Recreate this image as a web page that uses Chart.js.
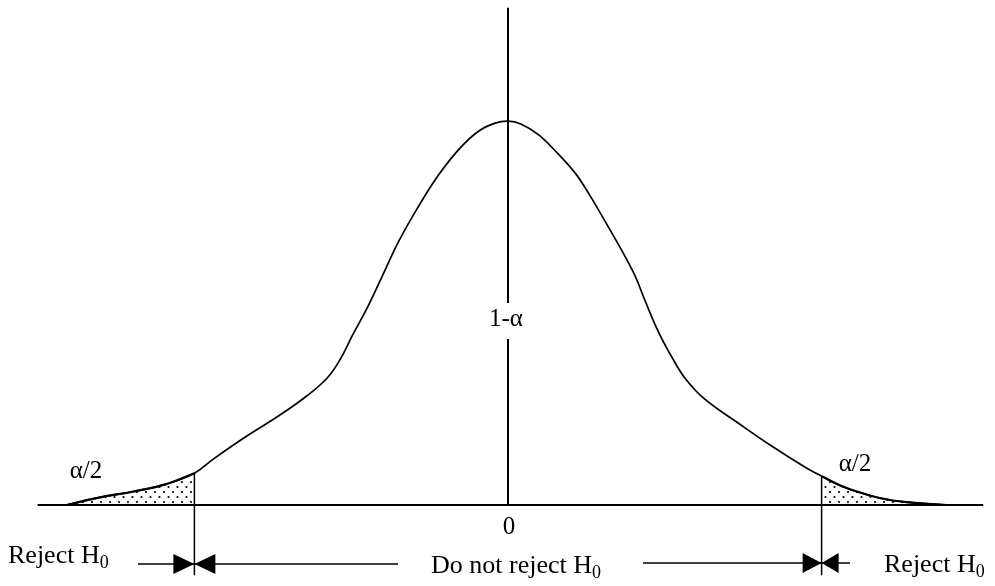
<!DOCTYPE html>
<html><head><meta charset="utf-8">
<script src="https://cdn.jsdelivr.net/npm/chart.js@4/dist/chart.umd.min.js"></script>
<style>html,body{margin:0;padding:0;background:#fff;overflow:hidden}</style>
</head><body>
<canvas id="c" width="995" height="586"></canvas>
<script>
// ---- data (z on x axis, density on y axis) ----
const zValues = [-2.76,-2.55,-2.34,-2.13,-1.96,-1.84,-1.63,-1.43,-1.26,-1.13,-1.05,-0.97,-0.88,-0.78,-0.68,-0.55,-0.43,-0.30,-0.18,-0.08,0,
                 0.08,0.19,0.29,0.42,0.50,0.61,0.78,0.86,0.94,1.03,1.11,1.23,1.44,1.65,1.86,1.96,2.08,2.18,2.33,2.49,2.74];
const density = [0,0.008,0.014,0.022,0.033,0.048,0.072,0.093,0.113,0.132,0.151,0.177,0.205,0.240,0.275,0.313,0.344,0.371,0.389,0.397,0.399,
                 0.396,0.385,0.369,0.345,0.325,0.294,0.243,0.211,0.180,0.152,0.131,0.110,0.085,0.061,0.039,0.030,0.020,0.014,0.007,0.003,0];
const criticalZ = [-1.96, 1.96];
const baselineZ = [-2.94, 2.97];
const axisTop = 0.517;
const critLineBottom = -0.073;
const tickLabels = ['0'];
const tailLabels = ['α/2', 'α/2'];
const centerLabel = '1-α';
const regionLabels = ['Reject H', 'Do not reject H', 'Reject H'];
const subscript = '0';

// ---- build ----
const pts = zValues.map((z,i)=>({x:z,y:density[i]}));
const densAt = z => density[zValues.indexOf(z)];
const leftTail = pts.filter(p=>p.x <= criticalZ[0]);
const rightTail = pts.filter(p=>p.x >= criticalZ[1]);

function dotPattern(){
  const t = document.createElement('canvas'); t.width = 9; t.height = 10;
  const g = t.getContext('2d');
  g.fillStyle = '#000';
  g.beginPath(); g.arc(2,2,1.1,0,Math.PI*2); g.fill();
  g.beginPath(); g.arc(6.5,7,1.1,0,Math.PI*2); g.fill();
  return g.createPattern(t,'repeat');
}
const pat = dotPattern();
const SERIF = '"Liberation Serif","Times New Roman",serif';

const line = (data, w, extra) => Object.assign({type:'line', data, borderColor:'#000', borderWidth:w, pointRadius:0, fill:false, tension:0}, extra||{});

const textPlugin = {
  id:'texts',
  afterDatasetsDraw(chart){
    const ctx = chart.ctx, xs = chart.scales.x;
    ctx.save();
    ctx.fillStyle = '#000'; ctx.strokeStyle = '#000';
    ctx.textBaseline = 'middle';
    const font = s => s + 'px ' + SERIF;
    const cx = xs.getPixelForValue(0);
    ctx.fillStyle = '#fff'; ctx.fillRect(cx-22, 303, 44, 36);
    ctx.fillStyle = '#000';
    ctx.font = font(25); ctx.textAlign = 'center';
    ctx.fillText(centerLabel, cx-2, 319);
    ctx.fillText(tailLabels[0], 86, 471);
    ctx.fillText(tailLabels[1], 855, 464);
    ctx.fillText(tickLabels[0], cx+1, 527);
    ctx.textAlign = 'left';
    const sub = (txt, x, y) => {
      ctx.font = font(26); ctx.fillText(txt, x, y);
      const w = ctx.measureText(txt).width;
      ctx.font = font(18); ctx.fillText(subscript, x+w, y+7);
    };
    sub(regionLabels[0], 8, 556);
    sub(regionLabels[1], 431, 566);
    sub(regionLabels[2], 884, 565);
    const L = xs.getPixelForValue(criticalZ[0]), R = xs.getPixelForValue(criticalZ[1]);
    const tri = (tip, dir, len, y) => {
      ctx.beginPath(); ctx.moveTo(tip, y); ctx.lineTo(tip - dir*len, y-10); ctx.lineTo(tip - dir*len, y+10); ctx.closePath(); ctx.fill();
    };
    ctx.lineWidth = 1.5;
    const hl = (a,b,y)=>{ctx.beginPath(); ctx.moveTo(a,y); ctx.lineTo(b,y); ctx.stroke();};
    hl(138, L, 564); hl(L, 398, 564);
    tri(L, 1, 21, 564); tri(L, -1, 21, 564);
    hl(643, R, 563); hl(R, 850, 563);
    tri(R, 1, 19, 563); tri(R, -1, 17, 563);
    ctx.restore();
  }
};

new Chart(document.getElementById('c'), {
  type:'line',
  data:{datasets:[
    line([{x:baselineZ[0],y:0},{x:baselineZ[1],y:0}], 2),
    line([{x:0,y:axisTop},{x:0,y:0}], 2),
    line([{x:criticalZ[0],y:densAt(criticalZ[0])},{x:criticalZ[0],y:critLineBottom}], 1.5),
    line([{x:criticalZ[1],y:densAt(criticalZ[1])},{x:criticalZ[1],y:critLineBottom}], 1.5),
    line(leftTail, 2.2, {fill:'origin', backgroundColor:pat, tension:0.4}),
    line(rightTail, 2.2, {fill:'origin', backgroundColor:pat, tension:0.4}),
    line(pts, 1.7, {tension:0.4})
  ]},
  options:{
    responsive:false, animation:false, events:[],
    layout:{padding:0},
    plugins:{legend:{display:false}, tooltip:{enabled:false}, title:{display:false}},
    scales:{
      x:{type:'linear', display:false, min:-508/160, max:487/160},
      y:{type:'linear', display:false, min:-81/962, max:505/962}
    }
  },
  plugins:[textPlugin]
});
</script>
</body></html>
